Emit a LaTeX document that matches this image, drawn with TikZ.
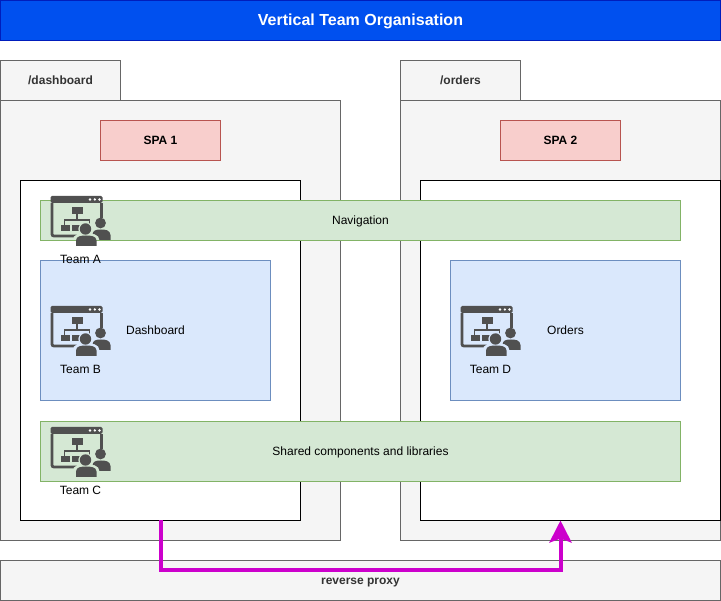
\documentclass[tikz,border=0pt]{standalone}
\usepackage{fontspec}
\setmainfont{Liberation Sans}
\usetikzlibrary{arrows.meta}
\definecolor{titlefill}{HTML}{0050EF}
\definecolor{titleline}{HTML}{001DBC}
\definecolor{greyfill}{HTML}{F5F5F5}
\definecolor{greyline}{HTML}{666666}
\definecolor{greytext}{HTML}{333333}
\definecolor{redfill}{HTML}{F8CECC}
\definecolor{redline}{HTML}{B85450}
\definecolor{greenfill}{HTML}{D5E8D4}
\definecolor{greenline}{HTML}{82B366}
\definecolor{bluefill}{HTML}{DAE8FC}
\definecolor{blueline}{HTML}{6C8EBF}
\definecolor{iconcol}{HTML}{505050}
\definecolor{proxycol}{HTML}{CC00CC}
\tikzset{
  block/.style={draw, line width=.8pt, anchor=north west, inner sep=0pt, outer sep=0pt, align=center, text height=11pt, text depth=2pt, font=\fontsize{12}{14}\selectfont},
  grey/.style={block, draw=greyline, fill=greyfill, text=greytext},
  greybold/.style={grey, font=\fontsize{12}{14}\selectfont\bfseries},
  spa/.style={block, draw=redline, fill=redfill, minimum width=120pt, minimum height=40pt, font=\fontsize{12}{14}\selectfont\bfseries},
  shell/.style={block, draw=black, fill=white, minimum height=340pt},
  shared/.style={block, draw=greenline, fill=greenfill, minimum width=640pt},
  mfe/.style={block, draw=blueline, fill=bluefill, minimum height=140pt},
  teamlabel/.style={font=\fontsize{12}{14}\selectfont, inner sep=0pt, text height=11pt, text depth=2pt},
  teamicon/.pic={
    \begin{scope}[even odd rule]
      % everything behind the front person leaves a gap round it
      \clip (-5,-5) rectangle (70,60) (35,33) circle (7.2);
      \clip (-5,-5) rectangle (70,60) (22,52) -- (22,44) .. controls (22,38) and (30,37) .. (35.5,37) .. controls (41,37) and (49,38) .. (49,44) -- (49,52) -- cycle;
      \draw[iconcol, line width=2.8pt, rounded corners=2pt] (1.4,7) -- (1.4,40) -- (30,40);
      \draw[iconcol, line width=2.8pt] (50.6,7) -- (50.6,22);
      \fill[iconcol, rounded corners=1.5pt] (0,0) rectangle (52,7);
      \foreach \x in {39.5,44.3,49} \fill[white] (\x,3.5) circle (1.3);
      \fill[iconcol] (21,11) rectangle (32,18);
      \draw[iconcol, line width=1.6pt] (26.5,18) -- (26.5,24) (14,29) -- (14,24) -- (39,24) -- (39,30);
      \fill[iconcol] (10,29) rectangle (19,35);
      \fill[iconcol] (21.5,29) rectangle (29.5,35);
      % back person
      \fill[iconcol] (50,27) circle (5.4);
      \fill[iconcol] (42,44) -- (42,39) .. controls (42,34) and (46,33.5) .. (50.5,33.5) .. controls (55,33.5) and (59.5,34) .. (60,39) -- (60,44) -- cycle;
    \end{scope}
    % front person
    \fill[iconcol] (35,33) circle (5.7);
    \fill[iconcol] (25.5,50) -- (25.5,44.5) .. controls (25.5,40) and (31,39.5) .. (35.5,39.5) .. controls (40,39.5) and (46,40) .. (46,44.5) -- (46,50) -- cycle;
  }
}
\begin{document}
\begin{tikzpicture}[x=1pt, y=-1pt, >={Stealth[length=22pt, width=22pt, inset=4pt]}]
\useasboundingbox (0,0) rectangle (721,601);
\fill[white] (0,0) rectangle (721,601);
\node[block, draw=titleline, fill=titlefill, text=white, minimum width=720pt, minimum height=40pt, text height=14pt, text depth=3pt, font=\fontsize{16}{18}\selectfont\bfseries] (title) at (0.5,0.5) {Vertical Team Organisation};
% left column
\node[greybold, minimum width=120pt, minimum height=40pt] (tabdash) at (0.5,60.5) {/dashboard};
\node[grey, minimum width=340pt, minimum height=440pt] (paneldash) at (0.5,100.5) {};
\node[spa] (spaone) at (100.5,120.5) {SPA 1};
\node[shell, minimum width=280pt] (shellone) at (20.5,180.5) {};
% right column
\node[greybold, minimum width=120pt, minimum height=40pt] (taborders) at (400.5,60.5) {/orders};
\node[grey, minimum width=320pt, minimum height=440pt] (panelorders) at (400.5,100.5) {};
\node[spa] (spatwo) at (500.5,120.5) {SPA 2};
\node[shell, minimum width=300pt] (shelltwo) at (420.5,180.5) {};
% shared rows and pages
\node[shared, minimum height=40pt] (nav) at (40.5,200.5) {Navigation};
\node[mfe, minimum width=230pt] (dash) at (40.5,260.5) {Dashboard};
\node[mfe, minimum width=230pt] (orders) at (450.5,260.5) {Orders};
\node[shared, minimum height=60pt] (libs) at (40.5,421.5) {Shared components and libraries};
% proxy
\node[greybold, minimum width=720pt, minimum height=40pt] (proxy) at (0.5,560.5) {reverse proxy};
% teams
\pic at (50.5,196) {teamicon};
\node[teamlabel] (teama) at (80.5,259.5) {Team A};
\pic at (50.5,306) {teamicon};
\node[teamlabel] (teamb) at (80.5,369.5) {Team B};
\pic at (50.5,427) {teamicon};
\node[teamlabel] (teamc) at (80.5,490.5) {Team C};
\pic at (460.5,306) {teamicon};
\node[teamlabel] (teamd) at (490.5,369.5) {Team D};
% routing
\coordinate (orderin) at ([xshift=-10pt]shelltwo.south);
\draw[->, proxycol, line width=4pt] (shellone.south) -- ++(0,50) -| (orderin);
\end{tikzpicture}
\end{document}
